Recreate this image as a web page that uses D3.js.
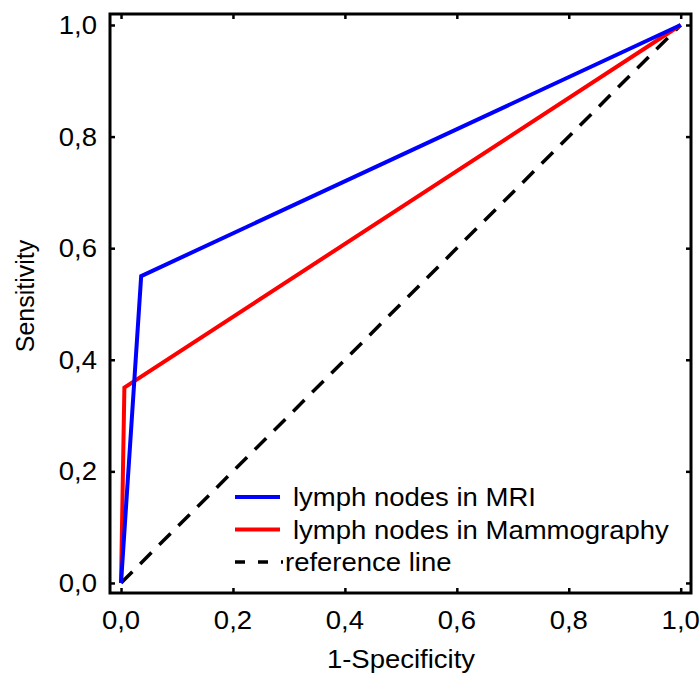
<!DOCTYPE html>
<html>
<head>
<meta charset="utf-8">
<script src="https://cdn.jsdelivr.net/npm/d3@7"></script>
<style>
  body { margin: 0; background: #fff; }
  text { font-family: "Liberation Sans", Arial, sans-serif; fill: #000; }
</style>
</head>
<body>
<script>
function init(){
    var w = 700;
    var h = 684;

    // ROC points: [1-specificity, sensitivity]
    var mriPoints = [[0, 0], [0.036, 0.55], [1, 1]];
    var mammoPoints = [[0, 0], [0.006, 0.35], [1, 1]];
    var refPoints = [[0, 0], [1, 1]];
    var tickValues = [0, 0.2, 0.4, 0.6, 0.8, 1.0];
    var seriesNames = ["lymph nodes in MRI", "lymph nodes in Mammography", "reference line"];

    var left = 110, right = 691, top = 14, bottom = 593;

    var xScale = d3.scaleLinear()
                .domain([-0.0197, 1.0184])
                .range([left, right]);
    var yScale = d3.scaleLinear()
                .domain([-0.018, 1.0197])
                .range([bottom, top]);

    var fmt = function(d){ return d3.format(".1f")(d).replace(".", ","); };
    var sx = 1.1; // horizontal text stretch

    var svg = d3.select("body")
                .append("svg")
                .attr("width", w)
                .attr("height", h);

    var line = d3.line()
                .x(function(d){ return xScale(d[0]); })
                .y(function(d){ return yScale(d[1]); });

    // reference line
    svg.append("path")
        .datum(refPoints)
        .attr("d", line)
        .attr("fill", "none")
        .attr("stroke", "#000")
        .attr("stroke-width", 3.5)
        .attr("stroke-dasharray", "16,11");

    svg.append("path")
        .datum(mammoPoints)
        .attr("d", line)
        .attr("fill", "none")
        .attr("stroke", "#ff0000")
        .attr("stroke-width", 4);

    svg.append("path")
        .datum(mriPoints)
        .attr("d", line)
        .attr("fill", "none")
        .attr("stroke", "#0000ff")
        .attr("stroke-width", 4);

    // ticks on all four sides, pointing inward
    function styleAxis(g){
        g.select(".domain").remove();
        g.selectAll(".tick line").attr("stroke", "#000").attr("stroke-width", 2.5);
        g.selectAll("text").remove();
    }
    svg.append("g").attr("transform", "translate(0," + bottom + ")")
        .call(d3.axisBottom(xScale).tickValues(tickValues).tickSizeInner(-5).tickSizeOuter(0)).call(styleAxis);
    svg.append("g").attr("transform", "translate(0," + top + ")")
        .call(d3.axisTop(xScale).tickValues(tickValues).tickSizeInner(-5).tickSizeOuter(0)).call(styleAxis);
    svg.append("g").attr("transform", "translate(" + left + ",0)")
        .call(d3.axisLeft(yScale).tickValues(tickValues).tickSizeInner(-5).tickSizeOuter(0)).call(styleAxis);
    svg.append("g").attr("transform", "translate(" + right + ",0)")
        .call(d3.axisRight(yScale).tickValues(tickValues).tickSizeInner(-5).tickSizeOuter(0)).call(styleAxis);

    // frame
    svg.append("rect")
        .attr("x", left)
        .attr("y", top)
        .attr("width", right - left)
        .attr("height", bottom - top)
        .attr("fill", "none")
        .attr("stroke", "#000")
        .attr("stroke-width", 3);

    // tick labels
    svg.selectAll(".xlab")
        .data(tickValues)
        .enter()
        .append("text")
        .attr("class", "xlab")
        .attr("text-anchor", "middle")
        .attr("font-size", 25)
        .attr("transform", function(d){ return "translate(" + xScale(d) + ",629) scale(" + sx + ",1)"; })
        .text(fmt);

    svg.selectAll(".ylab")
        .data(tickValues)
        .enter()
        .append("text")
        .attr("class", "ylab")
        .attr("text-anchor", "end")
        .attr("font-size", 25)
        .attr("transform", function(d){ return "translate(97," + (yScale(d) + 9) + ") scale(" + sx + ",1)"; })
        .text(fmt);

    // axis titles
    svg.append("text")
        .attr("text-anchor", "middle")
        .attr("font-size", 25)
        .attr("transform", "translate(401,668) scale(" + sx + ",1)")
        .text("1-Specificity");

    svg.append("text")
        .attr("text-anchor", "middle")
        .attr("font-size", 25)
        .attr("transform", "translate(34,296) rotate(-90)")
        .text("Sensitivity");

    // legend
    var legColors = ["#0000ff", "#ff0000", "#000"];
    var legDash = [null, null, "10,13"];
    var legTextX = [293, 293, 285];
    var leg = svg.selectAll(".leg")
        .data(seriesNames)
        .enter()
        .append("g")
        .attr("class", "leg")
        .attr("transform", function(d, i){ return "translate(0," + (497 + i * 32.5) + ")"; });
    leg.append("line")
        .attr("x1", 235)
        .attr("x2", function(d, i){ return i == 2 ? 283 : 280; })
        .attr("y1", 0)
        .attr("y2", 0)
        .attr("stroke", function(d, i){ return legColors[i]; })
        .attr("stroke-width", function(d, i){ return i == 2 ? 3.5 : 4; })
        .attr("stroke-dasharray", function(d, i){ return legDash[i]; });
    leg.append("text")
        .attr("font-size", 25)
        .attr("transform", function(d, i){ return "translate(" + legTextX[i] + ",9) scale(" + sx + ",1)"; })
        .text(function(d){ return d; });
}
window.onload = init;
</script>
</body>
</html>
